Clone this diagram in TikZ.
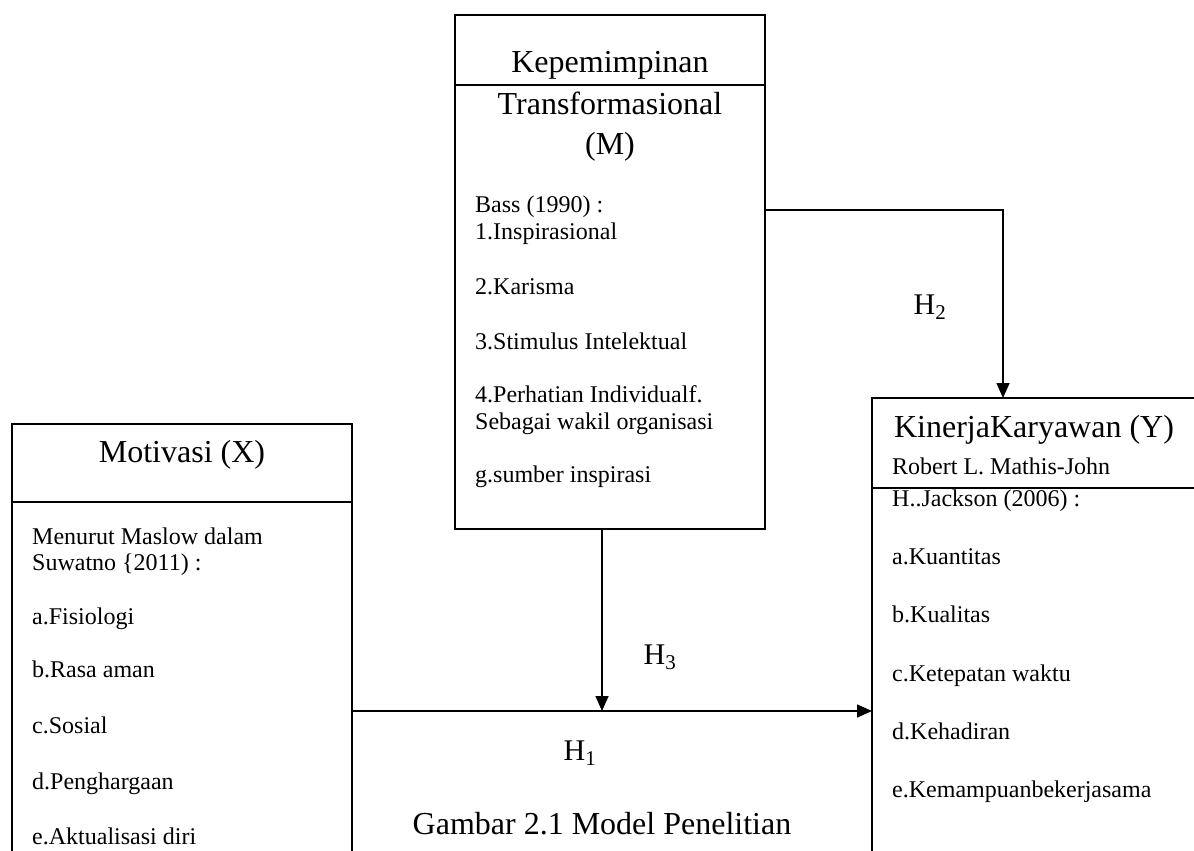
\documentclass[tikz,border=0pt]{standalone}
\usepackage{fontspec}
\setmainfont{Liberation Serif}
\usetikzlibrary{arrows.meta}
\newcommand{\hyp}[1]{H\textsubscript{#1}}
\tikzset{
  >={Triangle[length=15pt,width=13pt]},
  txt/.style={inner sep=0pt, text height=0.7em, text depth=0.24em, yshift=-5pt},
  head/.style={txt, font=\fontsize{32}{36}\selectfont},
  item/.style={txt, anchor=west, font=\fontsize{24}{27}\selectfont},
  hlabel/.style={txt, font=\fontsize{30}{34}\selectfont},
  box/.style={line width=1.8pt},
  link/.style={line width=1.6pt}
}

\begin{document}
\begin{tikzpicture}[x=1pt, y=-1pt]
\useasboundingbox (0,0) rectangle (1194,851);

% Kepemimpinan Transformasional (M)
\draw[box] (455,15) rectangle (765,529); \draw[box] (455,85) -- (765,85);
\draw (610,65) node[head] (m0) {Kepemimpinan};
\draw (610,107) node[head] (m1) {Transformasional};
\draw (610,147) node[head] (m2) {(M)};
\draw (475,205) node[item] (mb) {Bass (1990) :};
\draw (475,232) node[item] (ma) {1.Inspirasional};
\draw (475,287) node[item] (mk) {2.Karisma};
\draw (475,342) node[item] (ms) {3.Stimulus Intelektual};
\draw (475,395) node[item] (mp) {4.Perhatian Individualf.};
\draw (475,422) node[item] (mw) {Sebagai wakil organisasi};
\draw (475,475) node[item] (mg) {g.sumber inspirasi};

% Motivasi (X)
\draw[box] (12,851) -- (12,424) -- (352,424) -- (352,851); \draw[box] (12,502) -- (352,502);
\draw (182,455) node[head] (x0) {Motivasi (X)};
\draw (32,537) node[item] (xm) {Menurut Maslow dalam};
\draw (32,563) node[item] (xs) {Suwatno \{2011) :};
\draw (32,617) node[item] (xa) {a.Fisiologi};
\draw (32,670) node[item] (xb) {b.Rasa aman};
\draw (32,726) node[item] (xc) {c.Sosial};
\draw (32,782) node[item] (xd) {d.Penghargaan};
\draw (32,837) node[item] (xe) {e.Aktualisasi diri};

% Kinerja Karyawan (Y)
\draw[box] (1194,398) -- (872,398) -- (872,851); \draw[box] (872,488) -- (1194,488);
\draw (1034,430) node[head] (y0) {KinerjaKaryawan (Y)};
\draw (892,467) node[item] (yr) {Robert L. Mathis-John};
\draw (892,499) node[item] (yj) {H..Jackson (2006) :};
\draw (892,557) node[item] (ya) {a.Kuantitas};
\draw (892,615) node[item] (yb) {b.Kualitas};
\draw (892,674) node[item] (yc) {c.Ketepatan waktu};
\draw (892,732) node[item] (yd) {d.Kehadiran};
\draw (892,790) node[item] (ye) {e.Kemampuanbekerjasama};

% end points of the arrows
\coordinate (Mout) at (765,210);
\coordinate (Ytop) at (1003,398);
\coordinate (Mbot) at (602,529);
\coordinate (join) at (602,711);
\coordinate (Xout) at (352,711);
\coordinate (Yin) at (872,711);

\draw[link,->] (Mout) -| (Ytop);
\draw[link,->] (Mbot) -- (join);
\draw[link,->] (Xout) -- (Yin);

\draw (930,307) node[hlabel] (h2) {\hyp{2}};
\draw (660,657) node[hlabel] (h3) {\hyp{3}};
\draw (580,753) node[hlabel] (h1) {\hyp{1}};

\draw (602,827) node[head] (cap) {Gambar 2.1 Model Penelitian};
\end{tikzpicture}
\end{document}
